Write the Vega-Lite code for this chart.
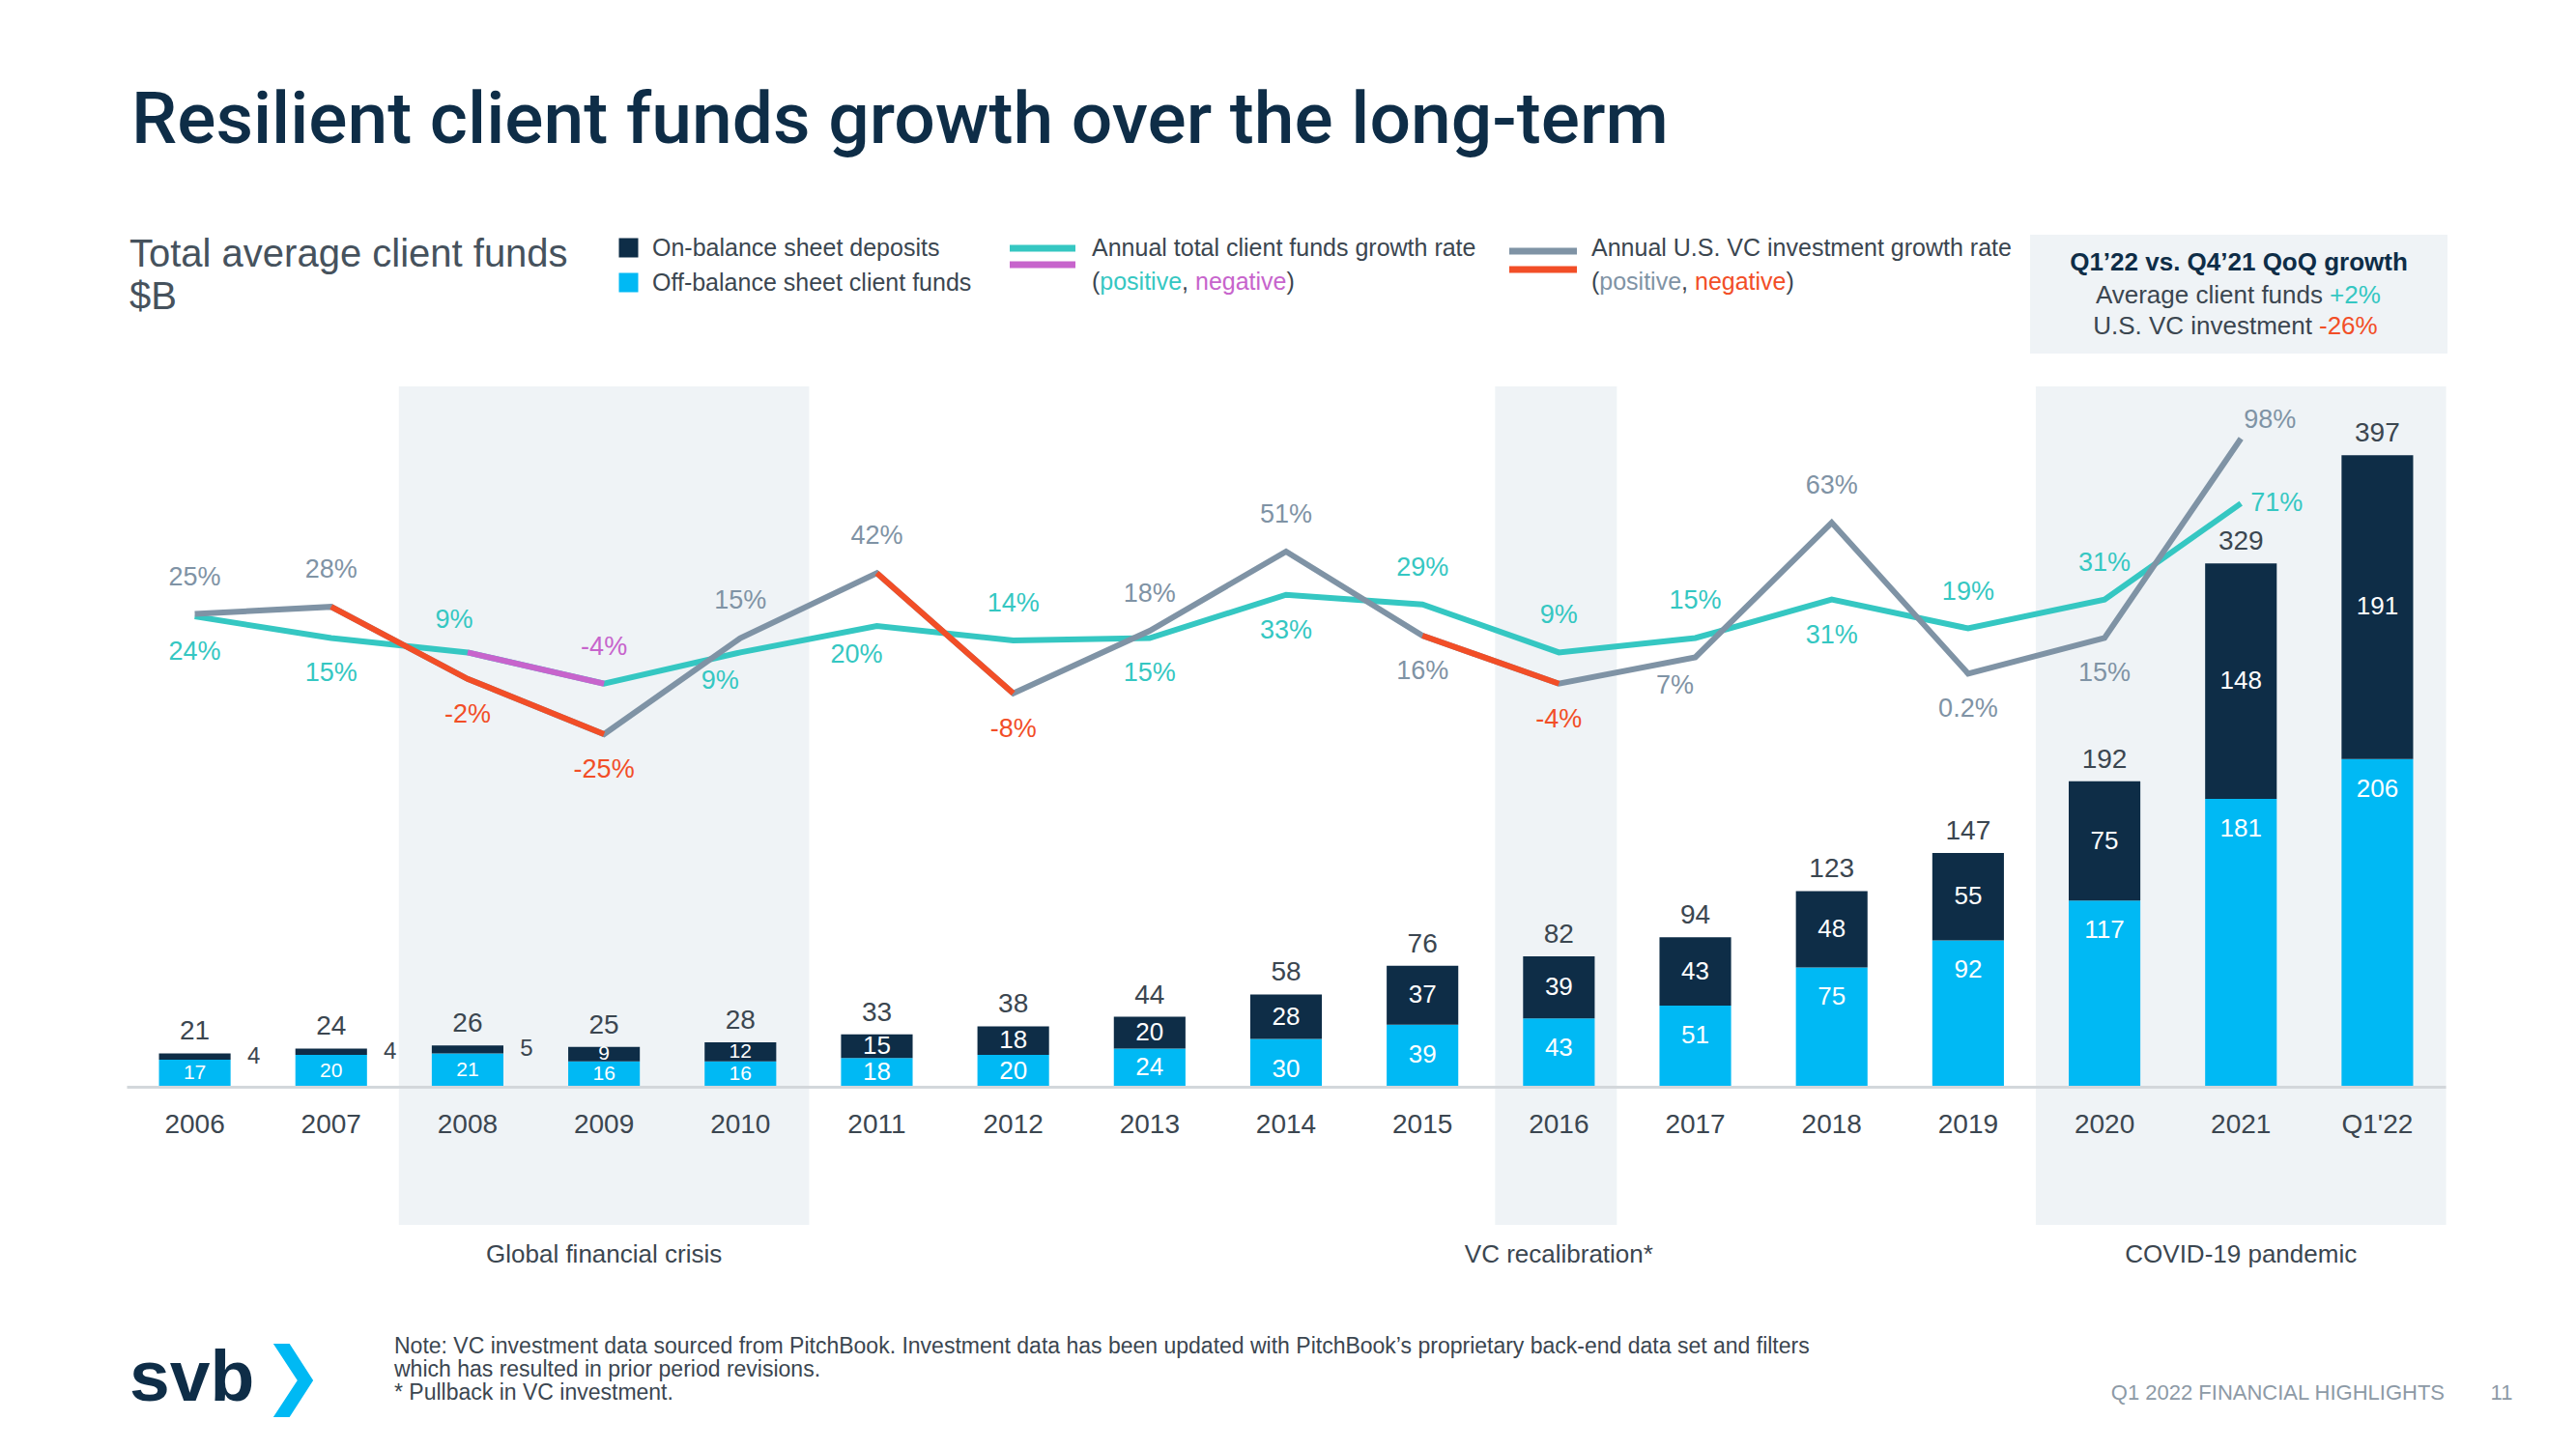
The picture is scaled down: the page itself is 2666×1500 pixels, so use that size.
{
  "$schema": "https://vega.github.io/schema/vega-lite/v6.json",
  "width": 2400,
  "height": 725,
  "autosize": {"type": "none"},
  "padding": {"left": 131, "top": 400, "right": 135, "bottom": 375},
  "background": "white",
  "config": {
    "view": {"stroke": null},
    "font": "Liberation Sans",
    "text": {"font": "Liberation Sans"},
    "locale": {"number": {"decimal": ".", "thousands": ",", "grouping": [3], "currency": ["$", ""], "minus": "-"}}
  },
  "data": {"values": [{}]},
  "datasets": {
    "bars": [
      {"year": "2006", "type": "Off-balance sheet client funds", "value": 17},
      {"year": "2006", "type": "On-balance sheet deposits", "value": 4},
      {"year": "2007", "type": "Off-balance sheet client funds", "value": 20},
      {"year": "2007", "type": "On-balance sheet deposits", "value": 4},
      {"year": "2008", "type": "Off-balance sheet client funds", "value": 21},
      {"year": "2008", "type": "On-balance sheet deposits", "value": 5},
      {"year": "2009", "type": "Off-balance sheet client funds", "value": 16},
      {"year": "2009", "type": "On-balance sheet deposits", "value": 9},
      {"year": "2010", "type": "Off-balance sheet client funds", "value": 16},
      {"year": "2010", "type": "On-balance sheet deposits", "value": 12},
      {"year": "2011", "type": "Off-balance sheet client funds", "value": 18},
      {"year": "2011", "type": "On-balance sheet deposits", "value": 15},
      {"year": "2012", "type": "Off-balance sheet client funds", "value": 20},
      {"year": "2012", "type": "On-balance sheet deposits", "value": 18},
      {"year": "2013", "type": "Off-balance sheet client funds", "value": 24},
      {"year": "2013", "type": "On-balance sheet deposits", "value": 20},
      {"year": "2014", "type": "Off-balance sheet client funds", "value": 30},
      {"year": "2014", "type": "On-balance sheet deposits", "value": 28},
      {"year": "2015", "type": "Off-balance sheet client funds", "value": 39},
      {"year": "2015", "type": "On-balance sheet deposits", "value": 37},
      {"year": "2016", "type": "Off-balance sheet client funds", "value": 43},
      {"year": "2016", "type": "On-balance sheet deposits", "value": 39},
      {"year": "2017", "type": "Off-balance sheet client funds", "value": 51},
      {"year": "2017", "type": "On-balance sheet deposits", "value": 43},
      {"year": "2018", "type": "Off-balance sheet client funds", "value": 75},
      {"year": "2018", "type": "On-balance sheet deposits", "value": 48},
      {"year": "2019", "type": "Off-balance sheet client funds", "value": 92},
      {"year": "2019", "type": "On-balance sheet deposits", "value": 55},
      {"year": "2020", "type": "Off-balance sheet client funds", "value": 117},
      {"year": "2020", "type": "On-balance sheet deposits", "value": 75},
      {"year": "2021", "type": "Off-balance sheet client funds", "value": 181},
      {"year": "2021", "type": "On-balance sheet deposits", "value": 148},
      {"year": "Q1'22", "type": "Off-balance sheet client funds", "value": 206},
      {"year": "Q1'22", "type": "On-balance sheet deposits", "value": 191}
    ],
    "totals": [
      {"year": "2006", "total": 21, "on": 4},
      {"year": "2007", "total": 24, "on": 4},
      {"year": "2008", "total": 26, "on": 5},
      {"year": "2009", "total": 25, "on": 9},
      {"year": "2010", "total": 28, "on": 12},
      {"year": "2011", "total": 33, "on": 15},
      {"year": "2012", "total": 38, "on": 18},
      {"year": "2013", "total": 44, "on": 20},
      {"year": "2014", "total": 58, "on": 28},
      {"year": "2015", "total": 76, "on": 37},
      {"year": "2016", "total": 82, "on": 39},
      {"year": "2017", "total": 94, "on": 43},
      {"year": "2018", "total": 123, "on": 48},
      {"year": "2019", "total": 147, "on": 55},
      {"year": "2020", "total": 192, "on": 75},
      {"year": "2021", "total": 329, "on": 148},
      {"year": "Q1'22", "total": 397, "on": 191}
    ],
    "shade": [
      {"year": "2008"}, {"year": "2009"}, {"year": "2010"},
      {"year": "2016"},
      {"year": "2020"}, {"year": "2021"}, {"year": "Q1'22"}
    ],
    "regions": [
      {"year": "2009", "label": "Global financial crisis"},
      {"year": "2016", "label": "VC recalibration*"},
      {"year": "2021", "label": "COVID-19 pandemic"}
    ],
    "growth": [
      {"year": "2006", "series": "client", "g": 0.24, "pos": "below"},
      {"year": "2007", "series": "client", "g": 0.15, "pos": "below"},
      {"year": "2008", "series": "client", "g": 0.09, "pos": "aboveLeft"},
      {"year": "2009", "series": "client", "g": -0.04, "pos": "above"},
      {"year": "2010", "series": "client", "g": 0.09, "pos": "belowLeft"},
      {"year": "2011", "series": "client", "g": 0.20, "pos": "belowLeft"},
      {"year": "2012", "series": "client", "g": 0.14, "pos": "above"},
      {"year": "2013", "series": "client", "g": 0.15, "pos": "below"},
      {"year": "2014", "series": "client", "g": 0.33, "pos": "below"},
      {"year": "2015", "series": "client", "g": 0.29, "pos": "above"},
      {"year": "2016", "series": "client", "g": 0.09, "pos": "above"},
      {"year": "2017", "series": "client", "g": 0.15, "pos": "above"},
      {"year": "2018", "series": "client", "g": 0.31, "pos": "below"},
      {"year": "2019", "series": "client", "g": 0.19, "pos": "above"},
      {"year": "2020", "series": "client", "g": 0.31, "pos": "above"},
      {"year": "2021", "series": "client", "g": 0.71, "pos": "right"},
      {"year": "2006", "series": "vc", "g": 0.25, "pos": "above"},
      {"year": "2007", "series": "vc", "g": 0.28, "pos": "above"},
      {"year": "2008", "series": "vc", "g": -0.02, "pos": "below"},
      {"year": "2009", "series": "vc", "g": -0.25, "pos": "below"},
      {"year": "2010", "series": "vc", "g": 0.15, "pos": "above"},
      {"year": "2011", "series": "vc", "g": 0.42, "pos": "above"},
      {"year": "2012", "series": "vc", "g": -0.08, "pos": "below"},
      {"year": "2013", "series": "vc", "g": 0.18, "pos": "above"},
      {"year": "2014", "series": "vc", "g": 0.51, "pos": "above"},
      {"year": "2015", "series": "vc", "g": 0.16, "pos": "below"},
      {"year": "2016", "series": "vc", "g": -0.04, "pos": "below"},
      {"year": "2017", "series": "vc", "g": 0.07, "pos": "belowLeft"},
      {"year": "2018", "series": "vc", "g": 0.63, "pos": "above"},
      {"year": "2019", "series": "vc", "g": 0.002, "pos": "below"},
      {"year": "2020", "series": "vc", "g": 0.15, "pos": "below"},
      {"year": "2021", "series": "vc", "g": 0.98, "pos": "aboveRight"}
    ],
    "negsegs": [
      {"seg": "a", "series": "vc", "year": "2007", "g": 0.28},
      {"seg": "a", "series": "vc", "year": "2008", "g": -0.02},
      {"seg": "a", "series": "vc", "year": "2009", "g": -0.25},
      {"seg": "b", "series": "vc", "year": "2011", "g": 0.42},
      {"seg": "b", "series": "vc", "year": "2012", "g": -0.08},
      {"seg": "c", "series": "vc", "year": "2015", "g": 0.16},
      {"seg": "c", "series": "vc", "year": "2016", "g": -0.04},
      {"seg": "d", "series": "client", "year": "2008", "g": 0.09},
      {"seg": "d", "series": "client", "year": "2009", "g": -0.04}
    ]
  },
  "layer": [
    {
      "encoding": {
        "x": {
          "field": "year", "type": "ordinal",
          "scale": {"domain": ["2006","2007","2008","2009","2010","2011","2012","2013","2014","2015","2016","2017","2018","2019","2020","2021","Q1'22"], "paddingInner": 0.475, "paddingOuter": 0.2375},
          "axis": {"title": null, "labelAngle": 0, "ticks": false, "tickSize": 0, "labelPadding": 25, "labelFontSize": 28, "labelColor": "#3B4650", "labelFont": "Liberation Sans", "domainColor": "#D3D7DB", "domainWidth": 3, "grid": false, "zindex": 1}
        }
      },
      "layer": [
        {
          "data": {"name": "shade"},
          "transform": [{"filter": "datum.year != '2016'"}],
          "mark": {"type": "bar", "color": "#EFF3F6", "width": {"band": 1.92}},
          "encoding": {
            "y": {"datum": 440.2, "type": "quantitative", "scale": {"domain": [0, 440.2], "nice": false, "zero": false}, "axis": null},
            "y2": {"datum": -86.8}
          }
        },
        {
          "data": {"name": "shade"},
          "transform": [{"filter": "datum.year == '2016'"}],
          "mark": {"type": "bar", "color": "#EFF3F6", "width": {"band": 1.7}, "xOffset": -3},
          "encoding": {
            "y": {"datum": 440.2, "type": "quantitative", "scale": {"domain": [0, 440.2], "nice": false, "zero": false}, "axis": null},
            "y2": {"datum": -86.8}
          }
        },
        {
          "data": {"name": "regions"},
          "mark": {"type": "text", "fontSize": 26, "color": "#3B4650", "baseline": "middle", "dy": 2},
          "encoding": {
            "y": {"datum": -104.4, "type": "quantitative", "scale": {"domain": [0, 440.2], "nice": false, "zero": false}, "axis": null},
            "text": {"field": "label"}
          }
        },
        {
          "data": {"name": "bars"},
          "mark": {"type": "bar"},
          "encoding": {
            "y": {"field": "value", "type": "quantitative", "stack": "zero", "scale": {"domain": [0, 440.2], "nice": false, "zero": false}, "axis": null},
            "color": {
              "field": "type", "type": "nominal",
              "scale": {"domain": ["On-balance sheet deposits", "Off-balance sheet client funds"], "range": ["#0E2D47", "#00B9F4"]},
              "legend": {"orient": "none", "legendX": 507, "legendY": -156, "title": null, "symbolType": "square", "symbolSize": 400, "symbolStrokeWidth": 0, "symbolOpacity": 1, "labelFontSize": 25, "labelColor": "#3B4650", "labelFont": "Liberation Sans", "labelLimit": 500, "labelOffset": 12, "rowPadding": 10, "padding": 0}
            },
            "order": {"field": "type", "sort": "ascending"}
          }
        },
        {
          "data": {"name": "bars"},
          "mark": {"type": "text", "color": "white", "baseline": "middle"},
          "encoding": {
            "y": {"field": "value", "type": "quantitative", "stack": "zero", "bandPosition": 0.5, "scale": {"domain": [0, 440.2], "nice": false, "zero": false}, "axis": null},
            "detail": {"field": "type"},
            "order": {"field": "type", "sort": "ascending"},
            "size": {"condition": {"test": "indexof(['2006','2007','2008','2009','2010'], datum.year) >= 0", "value": 21}, "value": 26},
            "text": {"condition": {"test": "(datum.type == 'Off-balance sheet client funds' && datum.value >= 30) || (datum.type == 'On-balance sheet deposits' && datum.value <= 6)", "value": ""}, "field": "value", "type": "quantitative"}
          }
        },
        {
          "data": {"name": "bars"},
          "transform": [{"filter": "datum.type == 'Off-balance sheet client funds' && datum.value >= 30"}],
          "mark": {"type": "text", "color": "white", "baseline": "middle", "fontSize": 26, "dy": 31},
          "encoding": {
            "y": {"field": "value", "type": "quantitative", "stack": null, "scale": {"domain": [0, 440.2], "nice": false, "zero": false}, "axis": null},
            "text": {"field": "value", "type": "quantitative"}
          }
        },
        {
          "data": {"name": "totals"},
          "mark": {"type": "text", "color": "#3B4650", "fontSize": 28, "baseline": "bottom", "dy": -8},
          "encoding": {
            "y": {"field": "total", "type": "quantitative", "scale": {"domain": [0, 440.2], "nice": false, "zero": false}, "axis": null},
            "text": {"field": "total", "type": "quantitative"}
          }
        },
        {
          "data": {"name": "totals"},
          "transform": [{"filter": "datum.on <= 6"}],
          "mark": {"type": "text", "color": "#3B4650", "fontSize": 24, "baseline": "middle", "dx": 61, "dy": 4},
          "encoding": {
            "y": {"field": "total", "type": "quantitative", "scale": {"domain": [0, 440.2], "nice": false, "zero": false}, "axis": null},
            "text": {"field": "on", "type": "quantitative"}
          }
        }
      ]
    },
    {
      "data": {"name": "growth"},
      "encoding": {
        "x": {
          "field": "year", "type": "ordinal",
          "scale": {"domain": ["2006","2007","2008","2009","2010","2011","2012","2013","2014","2015","2016","2017","2018","2019","2020","2021","Q1'22"], "paddingInner": 0.475, "paddingOuter": 0.2375},
          "axis": {"title": null, "labelAngle": 0, "ticks": false, "tickSize": 0, "labelPadding": 25, "labelFontSize": 28, "labelColor": "#3B4650", "labelFont": "Liberation Sans", "domainColor": "#D3D7DB", "domainWidth": 3, "grid": false, "zindex": 1}
        },
        "y": {"field": "g", "type": "quantitative", "scale": {"domain": [-1.717, 1.197], "nice": false, "zero": false}, "axis": null}
      },
      "layer": [
        {
          "transform": [{"filter": "datum.series == 'client'"}],
          "mark": {"type": "line", "color": "#35C7C2", "strokeWidth": 6}
        },
        {
          "data": {"name": "negsegs"},
          "transform": [{"filter": "datum.series == 'client'"}],
          "mark": {"type": "line", "color": "#C764CC", "strokeWidth": 6},
          "encoding": {"detail": {"field": "seg"}}
        },
        {
          "transform": [{"filter": "datum.series == 'vc'"}],
          "mark": {"type": "line", "color": "#7F93A5", "strokeWidth": 6}
        },
        {
          "data": {"name": "negsegs"},
          "transform": [{"filter": "datum.series == 'vc'"}],
          "mark": {"type": "line", "color": "#F24E27", "strokeWidth": 6},
          "encoding": {"detail": {"field": "seg"}}
        },
        {
          "transform": [{"filter": "datum.pos == 'above'"}],
          "mark": {"type": "text", "fontSize": 27, "baseline": "middle", "dy": -38},
          "encoding": {
            "text": {"field": "g", "type": "quantitative", "format": ".1~%"},
            "color": {"condition": [{"test": "datum.series == 'vc' && datum.g < 0", "value": "#F24E27"}, {"test": "datum.series == 'client' && datum.g < 0", "value": "#C764CC"}, {"test": "datum.series == 'vc'", "value": "#7F93A5"}], "value": "#35C7C2"}
          }
        },
        {
          "transform": [{"filter": "datum.pos == 'below'"}],
          "mark": {"type": "text", "fontSize": 27, "baseline": "middle", "dy": 37},
          "encoding": {
            "text": {"field": "g", "type": "quantitative", "format": ".1~%"},
            "color": {"condition": [{"test": "datum.series == 'vc' && datum.g < 0", "value": "#F24E27"}, {"test": "datum.series == 'client' && datum.g < 0", "value": "#C764CC"}, {"test": "datum.series == 'vc'", "value": "#7F93A5"}], "value": "#35C7C2"}
          }
        },
        {
          "transform": [{"filter": "datum.pos == 'belowLeft'"}],
          "mark": {"type": "text", "fontSize": 27, "baseline": "middle", "dy": 30, "dx": -21},
          "encoding": {
            "text": {"field": "g", "type": "quantitative", "format": ".1~%"},
            "color": {"condition": [{"test": "datum.series == 'vc' && datum.g < 0", "value": "#F24E27"}, {"test": "datum.series == 'client' && datum.g < 0", "value": "#C764CC"}, {"test": "datum.series == 'vc'", "value": "#7F93A5"}], "value": "#35C7C2"}
          }
        },
        {
          "transform": [{"filter": "datum.pos == 'aboveLeft'"}],
          "mark": {"type": "text", "fontSize": 27, "baseline": "middle", "dy": -33, "dx": -14},
          "encoding": {
            "text": {"field": "g", "type": "quantitative", "format": ".1~%"},
            "color": {"condition": [{"test": "datum.series == 'vc' && datum.g < 0", "value": "#F24E27"}, {"test": "datum.series == 'client' && datum.g < 0", "value": "#C764CC"}, {"test": "datum.series == 'vc'", "value": "#7F93A5"}], "value": "#35C7C2"}
          }
        },
        {
          "transform": [{"filter": "datum.pos == 'aboveRight'"}],
          "mark": {"type": "text", "fontSize": 27, "baseline": "middle", "dy": -19, "dx": 30},
          "encoding": {
            "text": {"field": "g", "type": "quantitative", "format": ".1~%"},
            "color": {"condition": [{"test": "datum.series == 'vc' && datum.g < 0", "value": "#F24E27"}, {"test": "datum.series == 'client' && datum.g < 0", "value": "#C764CC"}, {"test": "datum.series == 'vc'", "value": "#7F93A5"}], "value": "#35C7C2"}
          }
        },
        {
          "transform": [{"filter": "datum.pos == 'right'"}],
          "mark": {"type": "text", "fontSize": 27, "baseline": "middle", "dy": 0, "dx": 37},
          "encoding": {
            "text": {"field": "g", "type": "quantitative", "format": ".1~%"},
            "color": {"condition": [{"test": "datum.series == 'vc' && datum.g < 0", "value": "#F24E27"}, {"test": "datum.series == 'client' && datum.g < 0", "value": "#C764CC"}, {"test": "datum.series == 'vc'", "value": "#7F93A5"}], "value": "#35C7C2"}
          }
        }
      ]
    },
    {"mark": {"type": "text", "x": 5, "y": -252, "align": "left", "baseline": "alphabetic", "font": "Roboto", "fontWeight": 500, "fontSize": 75, "color": "#0E2D47", "text": "Resilient client funds growth over the long-term"}},
    {"mark": {"type": "text", "x": 3, "y": -136.5, "align": "left", "baseline": "middle", "fontSize": 40, "color": "#46525D", "text": "Total average client funds"}},
    {"mark": {"type": "text", "x": 3, "y": -92, "align": "left", "baseline": "middle", "fontSize": 40, "color": "#46525D", "text": "$B"}},
    {"mark": {"type": "rect", "x": 914, "x2": 982, "y": -146.5, "y2": -139.5, "color": "#35C7C2"}, "encoding": {}},
    {"mark": {"type": "rect", "x": 914, "x2": 982, "y": -129.5, "y2": -122.5, "color": "#C764CC"}, "encoding": {}},
    {"mark": {"type": "rect", "x": 1431, "x2": 1501, "y": -143.5, "y2": -136.5, "color": "#7F93A5"}, "encoding": {}},
    {"mark": {"type": "rect", "x": 1431, "x2": 1501, "y": -124.5, "y2": -117.5, "color": "#F24E27"}, "encoding": {}},
    {"mark": {"type": "text", "x": 999, "y": -143, "align": "left", "baseline": "middle", "fontSize": 25, "color": "#3B4650", "text": "Annual total client funds growth rate"}},
    {"mark": {"type": "text", "x": 999, "y": -108, "align": "left", "baseline": "middle", "fontSize": 25, "color": "#3B4650", "text": "("}},
    {"mark": {"type": "text", "x": 1007.3, "y": -108, "align": "left", "baseline": "middle", "fontSize": 25, "color": "#35C7C2", "text": "positive"}},
    {"mark": {"type": "text", "x": 1092.1, "y": -108, "align": "left", "baseline": "middle", "fontSize": 25, "color": "#3B4650", "text": ","}},
    {"mark": {"type": "text", "x": 1106, "y": -108, "align": "left", "baseline": "middle", "fontSize": 25, "color": "#C764CC", "text": "negative"}},
    {"mark": {"type": "text", "x": 1200.5, "y": -108, "align": "left", "baseline": "middle", "fontSize": 25, "color": "#3B4650", "text": ")"}},
    {"mark": {"type": "text", "x": 1516, "y": -143, "align": "left", "baseline": "middle", "fontSize": 25, "color": "#3B4650", "text": "Annual U.S. VC investment growth rate"}},
    {"mark": {"type": "text", "x": 1516, "y": -108, "align": "left", "baseline": "middle", "fontSize": 25, "color": "#3B4650", "text": "("}},
    {"mark": {"type": "text", "x": 1524.3, "y": -108, "align": "left", "baseline": "middle", "fontSize": 25, "color": "#7F93A5", "text": "positive"}},
    {"mark": {"type": "text", "x": 1609.1, "y": -108, "align": "left", "baseline": "middle", "fontSize": 25, "color": "#3B4650", "text": ","}},
    {"mark": {"type": "text", "x": 1623, "y": -108, "align": "left", "baseline": "middle", "fontSize": 25, "color": "#F24E27", "text": "negative"}},
    {"mark": {"type": "text", "x": 1717.5, "y": -108, "align": "left", "baseline": "middle", "fontSize": 25, "color": "#3B4650", "text": ")"}},
    {"mark": {"type": "rect", "x": 1970, "x2": 2402, "y": -157, "y2": -34, "color": "#EFF3F6"}, "encoding": {}},
    {"mark": {"type": "text", "x": 2186, "y": -128, "align": "center", "baseline": "middle", "fontSize": 26, "fontWeight": "bold", "color": "#0E2D47", "text": "Q1’22 vs. Q4’21 QoQ growth"}},
    {"mark": {"type": "text", "x": 2273, "y": -94, "align": "right", "baseline": "middle", "fontSize": 26, "color": "#3B4650", "text": "Average client funds"}},
    {"mark": {"type": "text", "x": 2280, "y": -94, "align": "left", "baseline": "middle", "fontSize": 26, "color": "#35C7C2", "text": "+2%"}},
    {"mark": {"type": "text", "x": 2262, "y": -62, "align": "right", "baseline": "middle", "fontSize": 26, "color": "#3B4650", "text": "U.S. VC investment"}},
    {"mark": {"type": "text", "x": 2269, "y": -62, "align": "left", "baseline": "middle", "fontSize": 26, "color": "#F24E27", "text": "-26%"}},
    {"mark": {"type": "text", "x": 277, "y": 994, "align": "left", "baseline": "middle", "fontSize": 23, "color": "#3B4650", "text": "Note: VC investment data sourced from PitchBook.  Investment data has been updated with PitchBook’s proprietary back-end data set and filters"}},
    {"mark": {"type": "text", "x": 277, "y": 1018, "align": "left", "baseline": "middle", "fontSize": 23, "color": "#3B4650", "text": "which has resulted in prior period revisions."}},
    {"mark": {"type": "text", "x": 277, "y": 1042, "align": "left", "baseline": "middle", "fontSize": 23, "color": "#3B4650", "text": "* Pullback in VC investment."}},
    {"mark": {"type": "text", "x": 2399, "y": 1042, "align": "right", "baseline": "middle", "fontSize": 22, "color": "#8D9AA6", "text": "Q1 2022 FINANCIAL HIGHLIGHTS"}},
    {"mark": {"type": "text", "x": 2458, "y": 1042, "align": "center", "baseline": "middle", "fontSize": 22, "color": "#8D9AA6", "text": "11"}},
    {"mark": {"type": "text", "x": 3, "y": 1050, "align": "left", "baseline": "alphabetic", "fontSize": 75, "fontWeight": "bold", "color": "#0E2D47", "text": "svb"}},
    {"mark": {"type": "text", "x": 172, "y": 1026, "align": "center", "baseline": "middle", "fontSize": 76, "font": "DejaVu Sans", "color": "#00B9F4", "text": "❯"}}
  ],
  "resolve": {"scale": {"y": "independent"}}
}
